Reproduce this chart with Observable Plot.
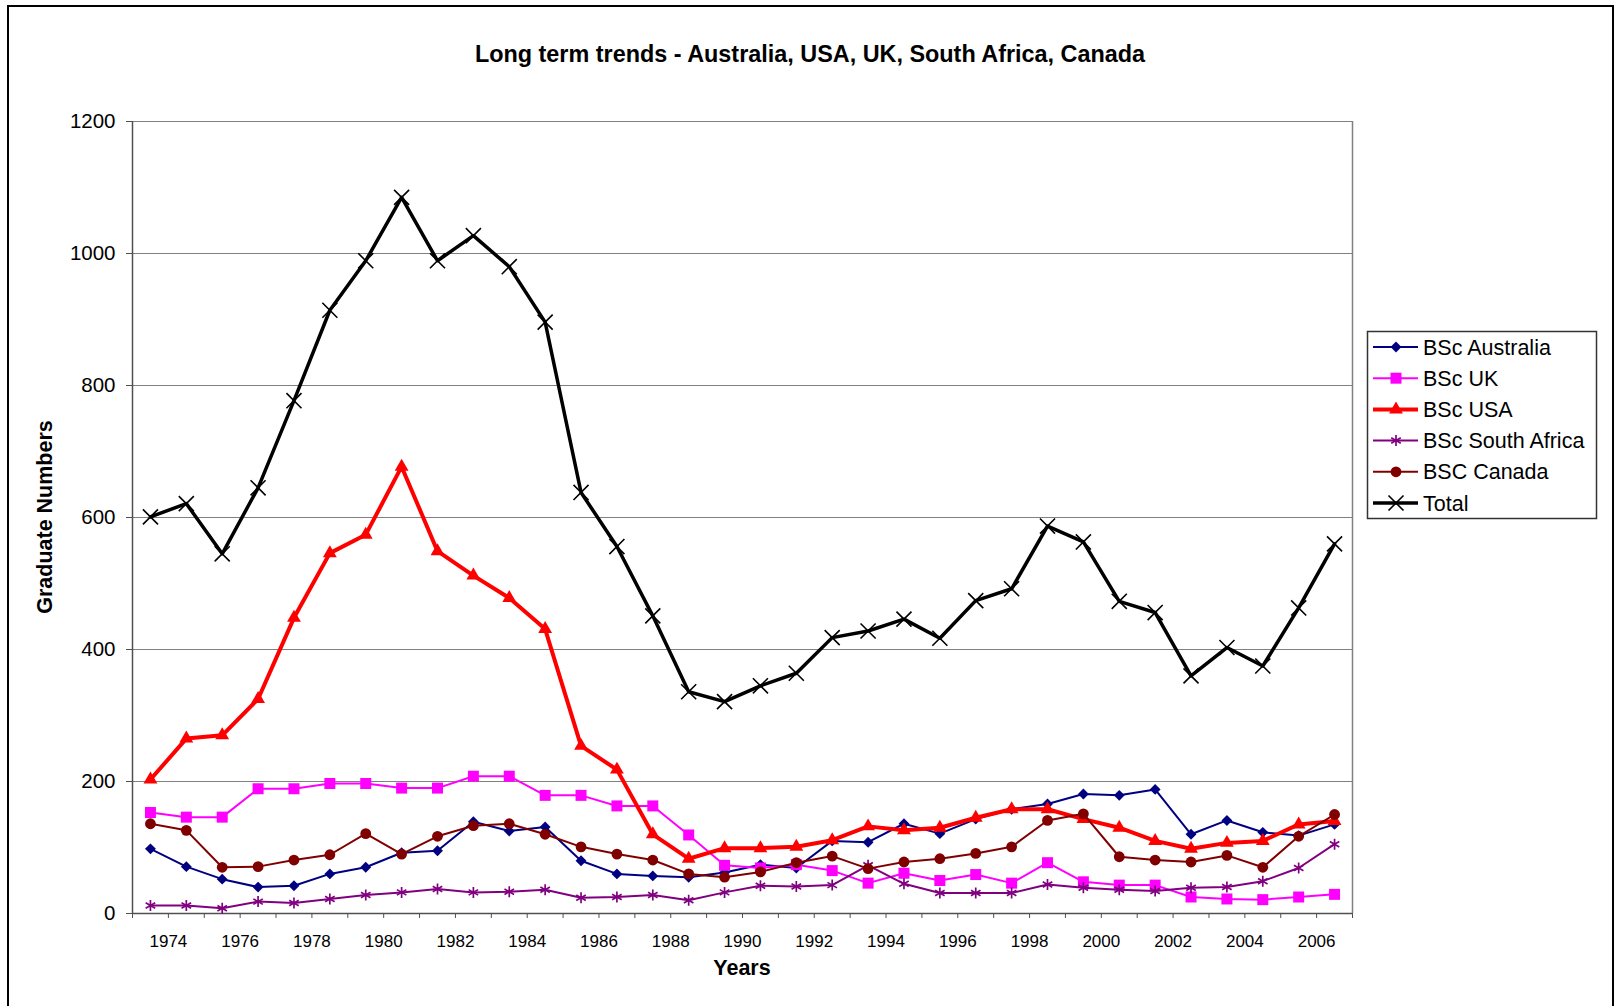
<!DOCTYPE html>
<html>
<head>
<meta charset="utf-8">
<script src="https://cdn.jsdelivr.net/npm/d3@7"></script>
<script src="https://cdn.jsdelivr.net/npm/@observablehq/plot@0.6"></script>
<style>
html, body { margin: 0; padding: 0; background: #fff; overflow: hidden; }
#wrap { position: relative; width: 1617px; height: 1006px; font-family: "Liberation Sans", Arial, sans-serif; }
#wrap > svg { position: absolute; left: 0; top: 0; }
</style>
</head>
<body>
<div id="wrap"></div>
<script>
// ---- data ----
const tickLabels = ["1974","1976","1978","1980","1982","1984","1986","1988","1990","1992","1994","1996","1998","2000","2002","2004","2006"];
const seriesNames = ["BSc Australia","BSc UK","BSc USA","BSc South Africa","BSC Canada","Total"];
const australia   = [98,71,52,40,42,60,70,92,95,139,125,131,80,60,57,55,62,74,69,110,108,136,121,143,158,166,181,179,188,120,141,123,118,135];
const uk          = [153,146,146,189,189,197,197,190,190,208,208,179,179,163,163,119,73,69,74,65,46,61,50,59,46,77,48,43,43,25,22,21,25,29];
const usa         = [203,265,270,325,448,546,574,677,549,512,478,431,254,218,120,83,99,99,101,111,132,126,130,145,158,158,143,130,110,98,107,110,135,140];
const southAfrica = [12,12,8,18,16,22,28,32,37,32,33,36,24,25,28,20,32,42,41,43,73,45,31,31,31,44,39,36,34,39,40,49,69,105];
const canada      = [136,126,70,71,81,89,121,90,117,133,136,120,101,90,81,60,55,63,77,87,68,78,83,91,101,141,151,86,81,78,88,70,117,150];
const total       = [601,621,545,645,777,914,989,1085,989,1027,980,896,638,556,451,336,321,345,364,418,428,446,417,474,492,587,563,473,456,360,403,375,463,560];
const yTicks = [0,200,400,600,800,1000,1200];

// ---- styles ----
const styles = [
  {values: australia,   color: "#000080", width: 2,   symbol: "diamond2",  r: 4.9, filled: true},
  {values: uk,          color: "#FF00FF", width: 2,   symbol: "square2",   r: 7.0, filled: true},
  {values: usa,         color: "#FF0000", width: 4,   symbol: "triangle2", r: 6.6, filled: true},
  {values: southAfrica, color: "#800080", width: 2,   symbol: "asterisk",  r: 5.2, filled: false, sw: 1.7},
  {values: canada,      color: "#800000", width: 2,   symbol: "circle",    r: 5.4, filled: true},
  {values: total,       color: "#000000", width: 3.5, symbol: "times",     r: 6.9, filled: false, sw: 1.6}
];

const nCat = total.length;
const xDomain = [0.5, nCat + 0.5];
const boundaries = d3.range(0, nCat + 1).map(k => k + 0.5);
const labelPos = tickLabels.map((_, i) => 2 * i + 1.5);
const labelAt = new Map(labelPos.map((p, i) => [p, tickLabels[i]]));

const font = "'Liberation Sans', Arial, sans-serif";
const marks = [
  Plot.gridY(yTicks, {stroke: "#808080", strokeOpacity: 1, strokeWidth: 1}),
  Plot.ruleX([xDomain[1]], {stroke: "#808080", strokeWidth: 1.5}),
  Plot.ruleX([xDomain[0]], {stroke: "#505050", strokeWidth: 1.5}),
  Plot.ruleY([0], {stroke: "#505050", strokeWidth: 1.5}),
  Plot.axisY(yTicks, {anchor: "left", tickSize: 6, tickPadding: 11, fontSize: 20.5, label: null, stroke: "#505050", tickFormat: d => String(d)}),
  Plot.axisX(boundaries, {anchor: "bottom", tickSize: 5, tickFormat: () => "", label: null, stroke: "#505050"}),
  Plot.axisX(labelPos, {anchor: "bottom", tickSize: 0, tickPadding: 21, fontSize: 17, label: null, tickFormat: d => labelAt.get(d)})
];

styles.forEach((s, k) => {
  const data = s.values.map((v, i) => ({i: i + 1, v, name: seriesNames[k]}));
  marks.push(Plot.line(data, {x: "i", y: "v", stroke: s.color, strokeWidth: s.width, strokeLinejoin: "round"}));
  if (s.filled) {
    marks.push(Plot.dot(data, {x: "i", y: "v", symbol: s.symbol, r: s.r, fill: s.color, stroke: "none"}));
  } else {
    marks.push(Plot.dot(data, {x: "i", y: "v", symbol: s.symbol, r: s.r, stroke: s.color, strokeWidth: s.sw, fill: "none"}));
  }
});

const chart = Plot.plot({
  width: 1617,
  height: 1006,
  marginLeft: 132,
  marginRight: 265,
  marginTop: 121,
  marginBottom: 93,
  x: {domain: xDomain, axis: null},
  y: {domain: [0, 1200], axis: null},
  style: {fontFamily: font, color: "#000", background: "transparent"},
  marks
});
const wrap = document.getElementById("wrap");
wrap.appendChild(chart);

// ---- overlay: border, titles, legend ----
const svg = d3.select(wrap).append("svg")
  .attr("width", 1617).attr("height", 1006)
  .style("font-family", font).style("pointer-events", "none");

svg.append("rect").attr("x", 8).attr("y", 6).attr("width", 1605).attr("height", 1100)
  .attr("fill", "none").attr("stroke", "#000").attr("stroke-width", 2);

svg.append("text").attr("x", 810).attr("y", 62).attr("text-anchor", "middle")
  .attr("font-size", 23.4).attr("font-weight", "bold")
  .text("Long term trends - Australia, USA, UK, South Africa, Canada");

svg.append("text").attr("transform", "translate(52,517) rotate(-90)").attr("text-anchor", "middle")
  .attr("font-size", 21.5).attr("font-weight", "bold").text("Graduate Numbers");

svg.append("text").attr("x", 742).attr("y", 975).attr("text-anchor", "middle")
  .attr("font-size", 21.5).attr("font-weight", "bold").text("Years");

// legend
const lg = svg.append("g");
lg.append("rect").attr("x", 1367.5).attr("y", 331.5).attr("width", 229).attr("height", 187)
  .attr("fill", "#fff").attr("stroke", "#333").attr("stroke-width", 1.5);
const symMap = {diamond2: d3.symbolDiamond2, square2: d3.symbolSquare2, triangle2: d3.symbolTriangle2,
  asterisk: d3.symbolAsterisk, circle: d3.symbolCircle, times: d3.symbolTimes};
styles.forEach((s, k) => {
  const y = 347 + k * 31.2;
  lg.append("line").attr("x1", 1373).attr("x2", 1418).attr("y1", y).attr("y2", y)
    .attr("stroke", s.color).attr("stroke-width", s.width);
  const p = lg.append("path").attr("transform", `translate(1396,${y})`)
    .attr("d", d3.symbol(symMap[s.symbol], s.r * s.r * Math.PI)());
  if (s.filled) p.attr("fill", s.color);
  else p.attr("fill", "none").attr("stroke", s.color).attr("stroke-width", s.sw);
  lg.append("text").attr("x", 1423).attr("y", y + 7.5).attr("font-size", 21.5).text(seriesNames[k]);
});
</script>
</body>
</html>
